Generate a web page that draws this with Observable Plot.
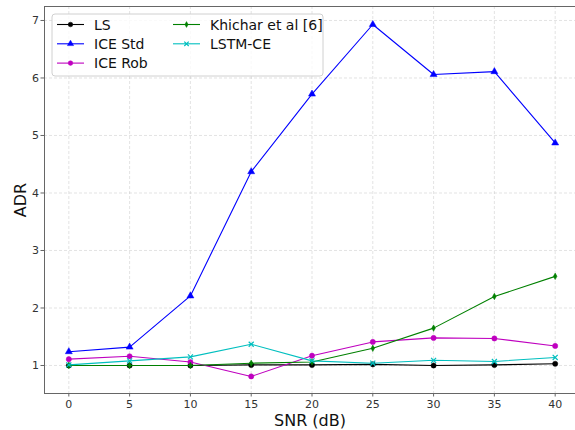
<!DOCTYPE html>
<html>
<head>
<meta charset="utf-8">
<script src="https://cdn.jsdelivr.net/npm/d3@7"></script>
<script src="https://cdn.jsdelivr.net/npm/@observablehq/plot@0.6"></script>
<style>
  html, body { margin: 0; padding: 0; background: #fff; }
  #chart { width: 575px; height: 430px; }
</style>
</head>
<body>
<div id="chart"></div>
<script>
// SNR sweep (dB) and the ADR measured for each estimator
const snr = [0, 5, 10, 15, 20, 25, 30, 35, 40];
const ls = [1.00, 1.00, 1.00, 1.01, 1.01, 1.02, 1.00, 1.01, 1.03];
const iceStd = [1.24, 1.32, 2.21, 4.37, 5.72, 6.93, 6.06, 6.11, 4.87];
const iceRob = [1.11, 1.16, 1.06, 0.81, 1.17, 1.41, 1.48, 1.47, 1.34];
const khichar = [1.00, 1.00, 1.00, 1.04, 1.06, 1.30, 1.65, 2.20, 2.55];
const lstmCe = [1.01, 1.08, 1.15, 1.37, 1.08, 1.04, 1.09, 1.07, 1.14];

const seriesNames = ["LS", "ICE Std", "ICE Rob", "Khichar et al [6]", "LSTM-CE"];
const xTicks = [0, 5, 10, 15, 20, 25, 30, 35, 40];
const yTicks = [1, 2, 3, 4, 5, 6, 7];

// thin diamond marker
const thinDiamond = {
  draw(ctx, size) {
    const s = Math.sqrt(size / Math.PI);
    ctx.moveTo(0, -s * 1.25);
    ctx.lineTo(s * 0.7, 0);
    ctx.lineTo(0, s * 1.25);
    ctx.lineTo(-s * 0.7, 0);
    ctx.closePath();
  }
};

const styles = [
  {color: "#000000", symbol: "circle", r: 2.6, hollow: false},
  {color: "#0000ff", symbol: "triangle", r: 2.6, hollow: false},
  {color: "#bf00bf", symbol: "circle", r: 2.6, hollow: false},
  {color: "#008000", symbol: thinDiamond, r: 2.6, hollow: false},
  {color: "#00bfbf", symbol: "times", r: 2.4, hollow: true}
];

const values = [ls, iceStd, iceRob, khichar, lstmCe];
const rows = values.map((v, i) => snr.map((s, j) => ({snr: s, adr: v[j], series: seriesNames[i]})));

const W = 575, H = 430;
const padL = 44, padT = 6, padB = 393, padR = 579;

const marks = [
  Plot.gridX(xTicks, {stroke: "#b0b0b0", strokeOpacity: 0.45, strokeDasharray: "3,2", strokeWidth: 0.8}),
  Plot.gridY(yTicks, {stroke: "#b0b0b0", strokeOpacity: 0.45, strokeDasharray: "3,2", strokeWidth: 0.8}),
  Plot.axisX(xTicks, {tickSize: 3.5, tickPadding: 3, fontSize: 11, fill: "#333", stroke: "#666", label: null, tickFormat: d => String(d)}),
  Plot.axisY(yTicks, {tickSize: 3.5, tickPadding: 2, fontSize: 11, fill: "#333", stroke: "#666", label: null, tickFormat: d => String(d)}),
];

rows.forEach((data, i) => {
  const st = styles[i];
  marks.push(Plot.line(data, {x: "snr", y: "adr", stroke: st.color, strokeWidth: 1.1}));
  if (st.hollow) {
    marks.push(Plot.dot(data, {x: "snr", y: "adr", symbol: st.symbol, r: st.r, stroke: st.color, strokeWidth: 1.2}));
  } else {
    marks.push(Plot.dot(data, {x: "snr", y: "adr", symbol: st.symbol, r: st.r, fill: st.color, stroke: st.color, strokeWidth: 0.5}));
  }
});

// spines
marks.push(Plot.frame({anchor: "left", stroke: "#666", strokeWidth: 1}));
marks.push(Plot.frame({anchor: "top", stroke: "#666", strokeWidth: 1}));
marks.push(Plot.frame({anchor: "bottom", stroke: "#666", strokeWidth: 1}));

// axis titles
marks.push(Plot.text(["SNR (dB)"], {frameAnchor: "bottom", dy: 32, fontSize: 16, fill: "#111", textAnchor: "middle", lineAnchor: "bottom"}));
marks.push(Plot.text(["ADR"], {frameAnchor: "left", dx: -24, rotate: -90, fontSize: 16, fill: "#111", textAnchor: "middle"}));

const svg = Plot.plot({
  width: W,
  height: H,
  marginLeft: padL,
  marginTop: padT,
  marginBottom: H - padB,
  marginRight: 0,
  style: {fontFamily: "'DejaVu Sans', sans-serif", background: "#fff", overflow: "hidden"},
  x: {domain: [-2, 42], range: [padL, padR]},
  y: {domain: [0.513, 7.243], range: [padB, padT]},
  marks
});

// legend
const lg = d3.select(svg).append("g")
  .attr("font-family", "'DejaVu Sans', sans-serif")
  .attr("text-anchor", "start");
lg.append("rect")
  .attr("x", 52).attr("y", 14).attr("width", 271).attr("height", 62)
  .attr("rx", 3).attr("fill", "#fff").attr("fill-opacity", 0.8)
  .attr("stroke", "#d0d0d0").attr("stroke-width", 1);

const symMap = {circle: d3.symbolCircle, triangle: d3.symbolTriangle, times: d3.symbolTimes};
seriesNames.forEach((name, i) => {
  const st = styles[i];
  const col = Math.floor(i / 3), row = i % 3;
  const x0 = col === 0 ? 57 : 173;
  const y0 = 24.5 + row * 19.3;
  const g = lg.append("g");
  g.append("line").attr("x1", x0).attr("x2", x0 + 27).attr("y1", y0).attr("y2", y0)
    .attr("stroke", st.color).attr("stroke-width", 1.1);
  const type = typeof st.symbol === "string" ? symMap[st.symbol] : st.symbol;
  const path = d3.symbol(type, Math.PI * st.r * st.r * 0.8)();
  const p = g.append("path").attr("d", path).attr("transform", `translate(${x0 + 13.5},${y0})`);
  if (st.hollow) p.attr("fill", "none").attr("stroke", st.color).attr("stroke-width", 1.2);
  else p.attr("fill", st.color).attr("stroke", st.color).attr("stroke-width", 0.5);
  g.append("text").attr("x", x0 + 37).attr("y", y0).attr("dy", "0.36em")
    .attr("text-anchor", "start")
    .attr("font-size", 14).attr("fill", "#111").text(name);
});

document.getElementById("chart").appendChild(svg);
</script>
</body>
</html>
